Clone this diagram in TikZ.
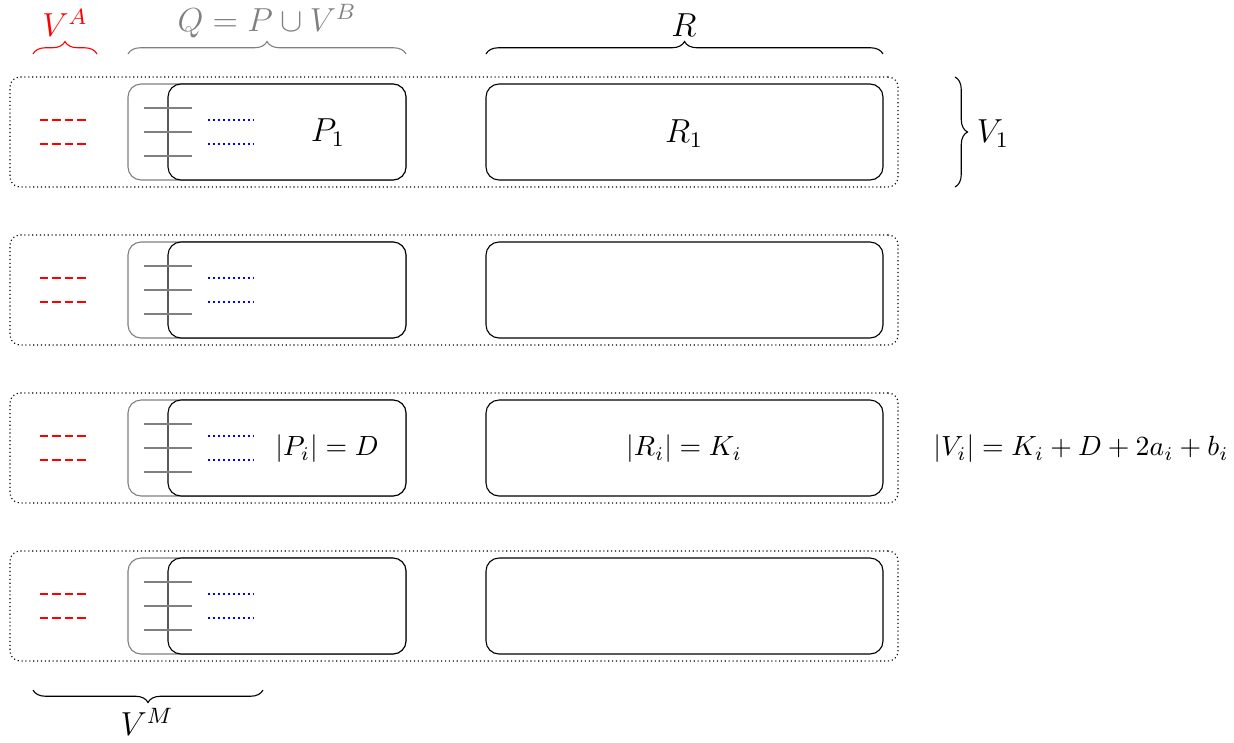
\documentclass[tikz,border=0pt]{standalone}
\usetikzlibrary{decorations.pathreplacing}
\begin{document}
\def\u{0.012658cm}
\begin{tikzpicture}[x=0.012658cm,y=-0.012658cm,
  outerbox/.style={draw, densely dotted, rounded corners=3.6pt, minimum width=888*\u, minimum height=110*\u, inner sep=0pt, outer sep=0pt},
  qbox/.style={draw=gray, rounded corners=4.7pt, minimum width=278*\u, minimum height=96*\u, inner sep=0pt, outer sep=0pt},
  pbox/.style={draw, fill=white, rounded corners=4.7pt, minimum width=238*\u, minimum height=96*\u, inner sep=0pt, outer sep=0pt},
  rbox/.style={draw, rounded corners=4.7pt, minimum width=397*\u, minimum height=96*\u, inner sep=0pt, outer sep=0pt},
  tick/.style={gray, line width=1pt},
  bdots/.style={blue, thick, densely dotted},
  rdash/.style={red, thick, dash pattern=on 3pt off 1.5pt},
  brc/.style={decorate, decoration={brace, amplitude=4.5pt}},
  biglab/.style={font=\large, inner sep=0pt}
]
\useasboundingbox (0,0) rectangle (1234,742);
\foreach \k in {1,...,4}{
  \pgfmathsetmacro{\yc}{132+158*(\k-1)}
  \node[outerbox] (V\k) at (454,\yc) {};
  \node[qbox] (Q\k) at (267,\yc) {};
  \node[pbox] (P\k) at (287,\yc) {};
  \node[rbox] (R\k) at (684.5,\yc) {};
  \foreach \d in {-24,0,24}{
    \draw[tick] (144,\yc+\d) -- (192,\yc+\d);
  }
  \foreach \d in {-12,12}{
    \draw[bdots] (208,\yc+\d) -- (254,\yc+\d);
    \draw[rdash] (40,\yc+\d) -- (89,\yc+\d);
  }
}
\node[biglab] (p1lab) at (328,133) {$P_1$};
\node[biglab] (r1lab) at (684,134) {$R_1$};
\node[inner sep=0pt] (pilab) at (327,449) {$|P_i| = D$};
\node[inner sep=0pt] (rilab) at (684,449) {$|R_i| = K_i$};
\node[inner sep=0pt] (vilab) at (1081,449) {$|V_i| = K_i + D + 2a_i + b_i$};
% braces
\coordinate (vaL) at (33,54); \coordinate (vaR) at (97,54);
\draw[brc, red] (vaL) -- (vaR);
\node[biglab, red] (valab) at (65,23) {$V^A$};
\coordinate (qL) at (128,54); \coordinate (qR) at (406,54);
\draw[brc, gray] (qL) -- (qR);
\node[biglab, gray] (qlab) at (267,21) {$Q = P \cup V^B$};
\coordinate (rL) at (486,54); \coordinate (rR) at (883,54);
\draw[brc] (rL) -- (rR);
\node[biglab] (rlab) at (684,25) {$R$};
\coordinate (v1T) at (955,77); \coordinate (v1B) at (955,187);
\draw[brc] (v1T) -- (v1B);
\node[biglab] (v1lab) at (993,134) {$V_1$};
\coordinate (vmL) at (33,690); \coordinate (vmR) at (263,690);
\draw[brc] (vmR) -- (vmL);
\node[biglab] (vmlab) at (147,722) {$V^M$};
\end{tikzpicture}
\end{document}
